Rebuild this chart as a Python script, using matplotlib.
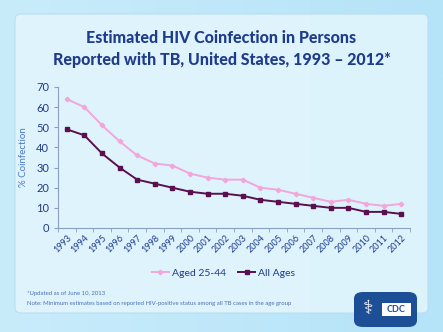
import matplotlib.pyplot as plt
import numpy as np
from matplotlib.patches import FancyBboxPatch

years = list(range(1993, 2013))
aged_25_44 = [64, 60, 51, 43, 36, 32, 31, 27, 25, 24, 24, 20, 19, 17, 15, 13, 14, 12, 11, 12]
all_ages = [49, 46, 37, 30, 24, 22, 20, 18, 17, 17, 16, 14, 13, 12, 11, 10, 10, 8, 8, 7]

plt.rcParams['font.family'] = ['Lato', 'DejaVu Sans']

navy = '#1f3c8c'
pink = '#f2a6dc'
plum = '#5a0f4e'

fig = plt.figure(figsize=(4.43, 3.32), dpi=100)

# background gradient
bg = fig.add_axes([0, 0, 1, 1])
grad = np.linspace(0, 1, 256).reshape(1, -1)
bg.imshow(np.vstack([grad, grad]), aspect='auto', extent=[0, 1, 0, 1],
          cmap=plt.matplotlib.colors.LinearSegmentedColormap.from_list(
              'bg', ['#c9ecfb', '#b5e3f8']))
bg.add_patch(FancyBboxPatch((15 / 443, 1 - 313 / 332), 413 / 443, 299 / 332,
                            boxstyle='round,pad=0,rounding_size=0.015',
                            fc='#e2f5fd', ec='#b8dcef', lw=0.8, alpha=0.9))
bg.set_xlim(0, 1)
bg.set_ylim(0, 1)
bg.axis('off')

fig.text(0.5, 1 - 38 / 332, 'Estimated HIV Coinfection in Persons',
         ha='center', va='center', fontsize=11.5, fontweight='black', color=navy)
fig.text(0.5, 1 - 60 / 332, 'Reported with TB, United States, 1993 \u2013 2012*',
         ha='center', va='center', fontsize=11.5, fontweight='black', color=navy)

ax = fig.add_axes([58 / 443, 1 - 228 / 332, 352 / 443, 141 / 332])
ax.patch.set_alpha(0)
x = np.arange(len(years))
ax.plot(x, aged_25_44, color=pink, lw=1.4, marker='D', ms=2.3, label='Aged 25-44')
ax.plot(x, all_ages, color=plum, lw=1.4, marker='s', ms=3.5, label='All Ages')
ax.set_xlim(-0.5, len(years) - 0.5)
ax.set_ylim(0, 70)
ax.set_yticks(range(0, 71, 10))
ax.set_xticks(x)
ax.set_xticklabels(years, rotation=45, ha='right', rotation_mode='anchor')
ax.set_xticks(np.arange(-0.5, len(years)), minor=True)
ax.tick_params(axis='x', which='major', length=0, labelsize=6.5, colors=navy, pad=4)
ax.tick_params(axis='x', which='minor', length=3, color='#8aa0c0')
ax.tick_params(axis='y', length=3, color='#8aa0c0', labelsize=8, colors=navy)
for s in ['top', 'right']:
    ax.spines[s].set_visible(False)
for s in ['left', 'bottom']:
    ax.spines[s].set_color('#8aa0c0')
ax.set_ylabel('% Coinfection', fontsize=7, color='#4a78d0', labelpad=6)
ax.legend(loc='upper center', bbox_to_anchor=(0.47, -0.22), ncol=2, frameon=False,
          fontsize=7.5, labelcolor=navy, handlelength=1.6, handletextpad=0.3,
          columnspacing=1.2)

fig.text(27 / 443, 1 - 293 / 332, '*Updated as of June 10, 2013',
         fontsize=4.3, color='#4a70b8', va='center')
fig.text(27 / 443, 1 - 304 / 332,
         'Note: Minimum estimates based on reported HIV-positive status among all TB cases in the age group',
         fontsize=4.3, color='#4a70b8', va='center')

# CDC logo
bg.add_patch(FancyBboxPatch((354 / 443, 1 - 327 / 332), 63 / 443, 35 / 332,
                            boxstyle='round,pad=0,rounding_size=0.02',
                            fc='#1d4f96', ec='none'))
bg.add_patch(FancyBboxPatch((382 / 443, 1 - 316 / 332), 29 / 443, 13 / 332,
                            boxstyle='square,pad=0', fc='white', ec='none'))
fig.text(396.5 / 443, 1 - 309.5 / 332, 'CDC', ha='center', va='center',
         fontsize=6.5, fontweight='bold', color='#1d4f96')
fig.text(368 / 443, 1 - 309 / 332, '\u2695', ha='center', va='center',
         fontsize=14, color='white', family='DejaVu Sans')

fig.savefig('out.png', dpi=100)
